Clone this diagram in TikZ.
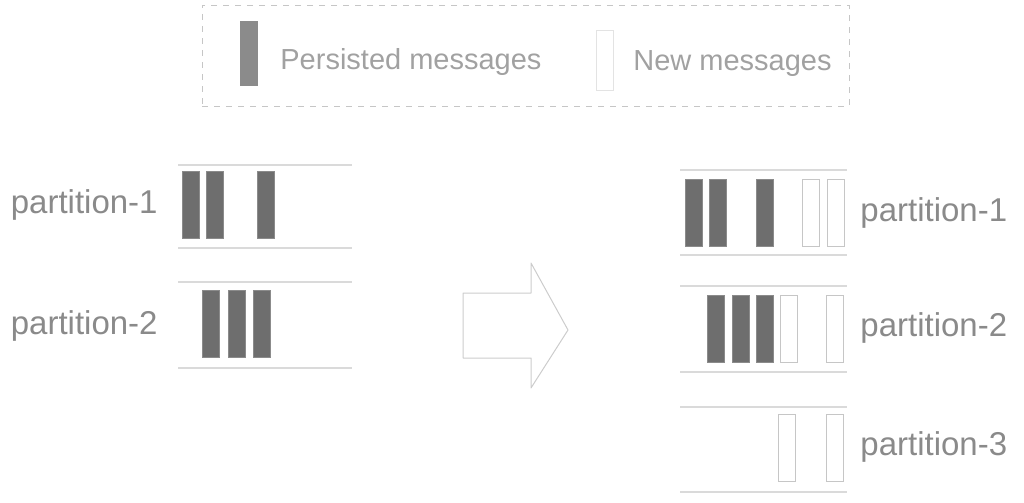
\documentclass[tikz,border=0pt]{standalone}
\usepackage{fontspec}
\setmainfont{Liberation Sans}
\usepackage{xcolor}
\usepackage{tikz}
\usetikzlibrary{positioning}
\definecolor{inkgray}{HTML}{8A8A8A}
\definecolor{bargray}{HTML}{6E6E6E}
\definecolor{linegray}{HTML}{DADADA}
\tikzset{persisted/.style={rectangle,fill=bargray,draw=bargray!80,line width=0.3pt,minimum width=8.5pt,minimum height=33.5pt,inner sep=0pt},
         newmsg/.style={rectangle,draw=gray!45,line width=0.4pt,fill=white,minimum width=8.5pt,minimum height=33.5pt,inner sep=0pt},
         lane/.style={draw=linegray,line width=0.6pt},
         part label/.style={text=inkgray,font=\fontsize{16.5}{20}\selectfont,inner sep=0pt},
         legend text/.style={text=inkgray!80,font=\fontsize{14.5}{18}\selectfont,inner sep=0pt},
            }

\begin{document}
\begin{tikzpicture}[x=0.5pt,y=-0.5pt]

    \useasboundingbox (0,0) rectangle (1024,503);

    % legend
    \node[draw=gray!45,dashed,line width=0.5pt,minimum width=323.5pt,minimum height=50.5pt] (legend) at (525.5,55.5) {};
    \node[persisted,fill=bargray!80,minimum height=32pt] (lgold) at (249,53) {};
    \node[legend text,anchor=west] (lgoldtext) at (280,62) {Persisted messages};
    \node[newmsg,draw=gray!22,minimum height=30pt] (lgnew) at (604.5,60) {};
    \node[legend text,anchor=west] (lgnewtext) at (633,64) {New messages};

    % before
    \path[lane] (178,165) -- (352,165) (178,248) -- (352,248)
                (178,282) -- (352,282) (178,368) -- (352,368);
    \node[part label,anchor=east] (p1) at (158,205) {partition-1};
    \node[part label,anchor=east] (p2) at (158,326) {partition-2};

    \node[persisted] (a1) at (190.5,204.5) {};
    \node[persisted] (a2) [right = 3.5pt of a1] {};
    \node[persisted] (a3) at (265.5,204.5) {};

    \node[persisted] (b1) at (211,323.5) {};
    \node[persisted] (b2) [right = 4pt of b1] {};
    \node[persisted] (b3) [right = 4pt of b2] {};

    % arrow
    \draw[draw=gray!40,line width=0.5pt,line join=round]
    (463,293) -- (531,293) -- (531,263) -- (568,330) -- (531,388) -- (531,358) -- (463,358) -- cycle;

    % after
    \path[lane] (680,170) -- (847,170) (680,255) -- (847,255)
                (680,286) -- (847,286) (680,372) -- (847,372)
                (680,407) -- (847,407) (680,492) -- (847,492);
    \node[part label,anchor=west] (q1) at (860,213) {partition-1};
    \node[part label,anchor=west] (q2) at (860,328) {partition-2};
    \node[part label,anchor=west] (q3) at (860,447) {partition-3};

    \node[persisted] (c1) at (693.5,213) {};
    \node[persisted] (c2) [right = 3.5pt of c1] {};
    \node[persisted] (c3) at (764.5,213) {};
    \node[newmsg] (c4) at (811,213) {};
    \node[newmsg] (c5) [right = 3.5pt of c4] {};

    \node[persisted] (d1) at (716,329) {};
    \node[persisted] (d2) [right = 3.5pt of d1] {};
    \node[persisted] (d3) [right = 3.5pt of d2] {};
    \node[newmsg] (d4) [right = 3pt of d3] {};
    \node[newmsg] (d5) at (835,329) {};

    \node[newmsg] (e1) at (787,447.5) {};
    \node[newmsg] (e2) at (835,447.5) {};

\end{tikzpicture}
\end{document}
